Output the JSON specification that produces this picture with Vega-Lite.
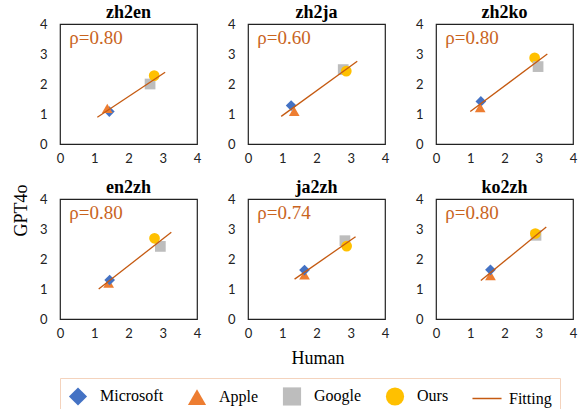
{
  "$schema": "https://vega.github.io/schema/vega-lite/v6.json",
  "padding": {"left": 12, "top": 3, "right": 4, "bottom": 0},
  "data": {"values": [
    {"pair": "zh2en", "kind": "pt", "series": "Microsoft", "human": 1.44, "gpt": 1.08},
    {"pair": "zh2en", "kind": "pt", "series": "Apple", "human": 1.38, "gpt": 1.19},
    {"pair": "zh2en", "kind": "pt", "series": "Google", "human": 2.63, "gpt": 2.0},
    {"pair": "zh2en", "kind": "pt", "series": "Ours", "human": 2.75, "gpt": 2.28},
    {"pair": "zh2en", "kind": "fit", "series": "Fitting", "human": 1.09, "gpt": 0.89},
    {"pair": "zh2en", "kind": "fit", "series": "Fitting", "human": 3.07, "gpt": 2.39},
    {"pair": "zh2en", "kind": "rho", "rho": "ρ=0.80"},
    {"pair": "zh2ja", "kind": "pt", "series": "Microsoft", "human": 1.26, "gpt": 1.28},
    {"pair": "zh2ja", "kind": "pt", "series": "Apple", "human": 1.35, "gpt": 1.09},
    {"pair": "zh2ja", "kind": "pt", "series": "Google", "human": 2.78, "gpt": 2.48},
    {"pair": "zh2ja", "kind": "pt", "series": "Ours", "human": 2.87, "gpt": 2.43},
    {"pair": "zh2ja", "kind": "fit", "series": "Fitting", "human": 0.97, "gpt": 0.92},
    {"pair": "zh2ja", "kind": "fit", "series": "Fitting", "human": 3.19, "gpt": 2.76},
    {"pair": "zh2ja", "kind": "rho", "rho": "ρ=0.60"},
    {"pair": "zh2ko", "kind": "pt", "series": "Microsoft", "human": 1.31, "gpt": 1.42},
    {"pair": "zh2ko", "kind": "pt", "series": "Apple", "human": 1.29, "gpt": 1.21},
    {"pair": "zh2ko", "kind": "pt", "series": "Ours", "human": 2.88, "gpt": 2.87},
    {"pair": "zh2ko", "kind": "pt", "series": "Google", "human": 2.98, "gpt": 2.58},
    {"pair": "zh2ko", "kind": "fit", "series": "Fitting", "human": 1.0, "gpt": 1.08},
    {"pair": "zh2ko", "kind": "fit", "series": "Fitting", "human": 3.25, "gpt": 3.0},
    {"pair": "zh2ko", "kind": "rho", "rho": "ρ=0.80"},
    {"pair": "en2zh", "kind": "pt", "series": "Apple", "human": 1.42, "gpt": 1.2},
    {"pair": "en2zh", "kind": "pt", "series": "Microsoft", "human": 1.45, "gpt": 1.3},
    {"pair": "en2zh", "kind": "pt", "series": "Google", "human": 2.93, "gpt": 2.42},
    {"pair": "en2zh", "kind": "pt", "series": "Ours", "human": 2.76, "gpt": 2.69},
    {"pair": "en2zh", "kind": "fit", "series": "Fitting", "human": 1.13, "gpt": 1.0},
    {"pair": "en2zh", "kind": "fit", "series": "Fitting", "human": 3.25, "gpt": 2.89},
    {"pair": "en2zh", "kind": "rho", "rho": "ρ=0.80"},
    {"pair": "ja2zh", "kind": "pt", "series": "Apple", "human": 1.65, "gpt": 1.47},
    {"pair": "ja2zh", "kind": "pt", "series": "Microsoft", "human": 1.65, "gpt": 1.63},
    {"pair": "ja2zh", "kind": "pt", "series": "Google", "human": 2.83, "gpt": 2.61},
    {"pair": "ja2zh", "kind": "pt", "series": "Ours", "human": 2.88, "gpt": 2.43},
    {"pair": "ja2zh", "kind": "fit", "series": "Fitting", "human": 1.36, "gpt": 1.33},
    {"pair": "ja2zh", "kind": "fit", "series": "Fitting", "human": 3.14, "gpt": 2.74},
    {"pair": "ja2zh", "kind": "rho", "rho": "ρ=0.74"},
    {"pair": "ko2zh", "kind": "pt", "series": "Apple", "human": 1.59, "gpt": 1.45},
    {"pair": "ko2zh", "kind": "pt", "series": "Microsoft", "human": 1.59, "gpt": 1.64},
    {"pair": "ko2zh", "kind": "pt", "series": "Google", "human": 2.92, "gpt": 2.79},
    {"pair": "ko2zh", "kind": "pt", "series": "Ours", "human": 2.9, "gpt": 2.85},
    {"pair": "ko2zh", "kind": "fit", "series": "Fitting", "human": 1.31, "gpt": 1.28},
    {"pair": "ko2zh", "kind": "fit", "series": "Fitting", "human": 3.22, "gpt": 3.07},
    {"pair": "ko2zh", "kind": "rho", "rho": "ρ=0.80"}
  ]},
  "title": {"text": "GPT4o", "orient": "left", "anchor": "middle", "font": "Liberation Serif", "fontSize": 18, "fontWeight": "normal", "color": "#000", "offset": 8},
  "vconcat": [{
    "title": {"text": "Human", "orient": "bottom", "anchor": "middle", "font": "Liberation Serif", "fontSize": 18, "fontWeight": "normal", "color": "#000", "offset": 9, "dx": 10},
    "facet": {"field": "pair", "type": "nominal", "sort": ["zh2en", "zh2ja", "zh2ko", "en2zh", "ja2zh", "ko2zh"], "title": null,
      "header": {"labelFont": "Liberation Serif", "labelFontSize": 18, "labelFontWeight": "bold", "labelColor": "#000", "labelPadding": -4}},
    "columns": 3,
    "spacing": {"row": 12, "column": 24},
    "resolve": {"axis": {"x": "independent", "y": "independent"}},
    "spec": {
      "width": 137,
      "height": 120,
      "layer": [
        {
          "transform": [{"filter": "datum.kind === 'pt'"}],
          "mark": {"type": "point", "filled": true, "opacity": 1, "size": 115},
          "encoding": {
            "x": {"field": "human", "type": "quantitative", "scale": {"domain": [0, 4], "nice": false}, "axis": {"values": [0, 1, 2, 3, 4], "labelOverlap": false}},
            "y": {"field": "gpt", "type": "quantitative", "scale": {"domain": [0, 4], "nice": false}, "axis": {"values": [0, 1, 2, 3, 4], "labelOverlap": false}},
            "color": {"field": "series", "type": "nominal",
              "scale": {"domain": ["Microsoft", "Apple", "Google", "Ours", "Fitting"], "range": ["#4472C4", "#ED7D31", "#BDBDBD", "#FFC000", "#C55A11"]},
              "legend": {"title": null, "orient": "bottom", "direction": "horizontal",
                "encode": {"symbols": {"update": {"stroke": {"signal": "datum.value === 'Fitting' ? '#C55A11' : 'transparent'"}, "strokeWidth": {"value": 1.5}}}}}},
            "shape": {"field": "series", "type": "nominal",
              "scale": {"domain": ["Microsoft", "Apple", "Google", "Ours", "Fitting"], "range": ["diamond", "triangle-up", "square", "circle", "M-1.6,0H1.6"]},
              "legend": {"title": null, "orient": "bottom", "direction": "horizontal",
                "encode": {"symbols": {"update": {"stroke": {"signal": "datum.value === 'Fitting' ? '#C55A11' : 'transparent'"}, "strokeWidth": {"value": 1.5}}}}}}
          }
        },
        {
          "transform": [{"filter": "datum.kind === 'fit'"}],
          "mark": {"type": "line", "color": "#C55A11", "strokeWidth": 1.3},
          "encoding": {
            "x": {"field": "human", "type": "quantitative", "axis": {"values": [0, 1, 2, 3, 4], "labelOverlap": false}},
            "y": {"field": "gpt", "type": "quantitative", "axis": {"values": [0, 1, 2, 3, 4], "labelOverlap": false}}
          }
        },
        {
          "transform": [{"filter": "datum.kind === 'rho'"}],
          "mark": {"type": "text", "align": "left", "baseline": "alphabetic", "font": "Liberation Serif", "fontSize": 19, "color": "#C9641E"},
          "encoding": {
            "x": {"datum": 0.27, "type": "quantitative", "axis": {"values": [0, 1, 2, 3, 4], "labelOverlap": false}},
            "y": {"datum": 3.35, "type": "quantitative", "axis": {"values": [0, 1, 2, 3, 4], "labelOverlap": false}},
            "text": {"field": "rho"}
          }
        }
      ]
    }
  }],
  "config": {
    "view": {"stroke": "#222", "strokeWidth": 1.2},
    "header": {"labelFont": "Liberation Serif", "labelFontSize": 18, "labelFontWeight": "bold", "labelColor": "#000"},
    "axis": {"domain": false, "ticks": false, "grid": false, "title": null, "labelFont": "Lato", "labelFontSize": 13, "labelColor": "#222", "labelFlush": false, "labelOverlap": false},
    "axisX": {"labelPadding": 8},
    "axisY": {"labelPadding": 13},
    "legend": {"labelFont": "Liberation Serif", "labelFontSize": 16, "labelColor": "#000", "symbolSize": 330, "symbolOpacity": 1, "labelOffset": 12, "columnPadding": 20, "padding": 8, "strokeColor": "#F4D3BD", "fillColor": "#fff", "offset": 10}
  }
}
